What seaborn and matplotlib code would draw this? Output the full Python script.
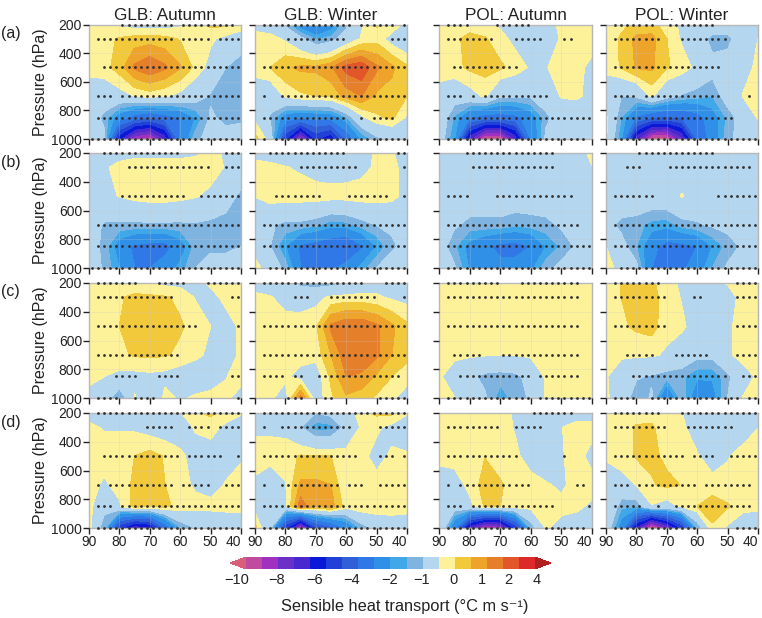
import numpy as np
import pandas as pd
import seaborn as sns
import matplotlib.pyplot as plt

lats = [90, 85, 80, 75, 70, 65, 60, 55, 50, 45, 40]
pressures = [200, 300, 500, 700, 850, 1000]
levels = [-11, -10, -9, -8, -7, -6, -5, -4, -3, -2, -1.5, -1, 0, 0.5, 1, 1.5, 2, 3, 4]
colors = ["#d8607a", "#c04aa0", "#a030c0", "#6a30c8", "#4a28d0", "#0a18d8", "#2040d8",
          "#3060d8", "#3078e8", "#3090e8", "#40a8e8", "#80b4e0", "#b4d6ee", "#fdf199",
          "#f3c93c", "#eea32a", "#e57f2a", "#e2562a", "#dc2a2a", "#b02020"]

# rows = pressure, cols = lat
a_glb_aut = [[0.2, 0.2, -0.1, -0.3, -0.3, -0.3, -0.1, 0.3, 0.6, 0.6, 0.3],
             [0.3, 0.35, 0.55, 0.7, 0.75, 0.65, 0.45, 0.3, 0.1, -0.2, -0.4],
             [0.2, 0.3, 0.75, 1.6, 1.95, 1.6, 1.05, 0.35, -0.25, -1.0, -1.5],
             [-0.4, -0.5, -0.3, 0.02, 0.2, 0.05, -0.2, -0.6, -1.1, -1.3, -1.3],
             [-0.5, -1.2, -2.5, -3.5, -4, -3.5, -3, -2, -0.9, -1.2, -1.15],
             [0.05, -0.8, -7, -10, -10.8, -8, -3, -1.2, -0.7, -0.7, -0.6]]
a_glb_win = [[-0.2, -0.4, -1.2, -2.5, -3.5, -2.5, -1.2, -0.1, 0.55, 0.4, -0.3],
             [0.2, 0.2, -0.1, -0.8, -1.6, -1.3, -0.6, 0.05, 0.3, -0.3, -0.7],
             [0.2, 0.5, 0.9, 1.1, 1.1, 1.4, 2.2, 2.4, 1.6, 1.1, 0.6],
             [-0.4, -0.6, 0.1, 0.4, 0.5, 0.6, 1.2, 1.5, 0.9, 0.8, 0.5],
             [-0.2, -1.1, -2.5, -2.8, -2.7, -2.6, -1.6, -0.2, 0.4, 0.6, -0.1],
             [0.7, -0.3, -6, -10, -6, -7, -4, -2, -1.2, -0.9, -0.7]]
a_pol_aut = [[0.2, 0.2, 0.2, 0.15, -0.1, -0.2, -0.3, -0.2, 0.1, 0.2, 0.2],
             [0.3, 0.35, 0.7, 0.55, 0.2, -0.2, -0.3, -0.3, 0.05, 0.3, 0.3],
             [0.3, 0.35, 0.6, 0.7, 0.6, 0.3, -0.1, -0.03, 0.2, 0.2, -0.2],
             [-0.3, -0.6, -0.3, 0.1, -0.9, -0.9, -0.9, -0.5, 0.05, 0.1, -0.2],
             [-0.3, -1.6, -3, -3.5, -3.5, -3.3, -2.5, -1.2, -0.5, -0.5, -0.4],
             [-0.5, -2, -8, -11.5, -11.5, -8, -3, -0.8, -0.5, -0.4, -0.3]]
a_pol_win = [[0.3, 0.4, 0.6, 0.7, 0.2, -0.1, -0.3, -0.4, -0.4, -0.2, -0.05],
             [0.3, 0.55, 1.15, 1.15, 0.5, -0.1, -0.5, -1.3, -1.3, -0.4, 0.0],
             [0.1, 0.55, 1.05, 1.1, 0.55, 0.3, -0.2, -0.7, -0.5, -0.2, 0.1],
             [-0.3, -1.0, -0.9, 0.1, -0.7, -1.1, -1.3, -1.5, -0.6, 0.02, 0.2],
             [0.1, -1.5, -3.2, -4, -4.2, -4, -3.5, -2.4, -1.4, -0.6, 0.05],
             [0.1, -2, -8, -11.5, -11.5, -8.5, -4, -2.5, -1.2, -0.7, -0.5]]

b_glb_aut = [[-0.4, -0.4, -0.3, -0.2, -0.2, -0.2, -0.2, -0.1, 0.1, -0.05, -0.4],
             [-0.4, -0.1, 0.2, 0.3, 0.3, 0.3, 0.3, 0.3, 0.25, -0.05, -0.4],
             [-0.5, -0.2, 0.03, 0.2, 0.3, 0.3, 0.2, 0.05, -0.15, -0.6, -1.2],
             [-0.6, -1.1, -1.15, -1.15, -1.15, -1.15, -1.15, -1.1, -1.2, -1.3, -1.3],
             [-0.6, -1.2, -2.5, -3.2, -3.4, -3.4, -2.5, -1.3, -1.1, -1.1, -1.0],
             [-0.6, -1.1, -2, -3, -3, -2.5, -1.8, -1, -0.8, -0.8, -0.8]]
b_glb_win = [[-0.2, -0.3, -0.4, -0.4, -0.4, -0.4, -0.4, -0.3, 0.1, 0.05, -0.3],
             [0.2, 0.15, 0.03, -0.1, -0.3, -0.35, -0.3, -0.2, 0.1, 0.2, -0.3],
             [0.02, 0.3, 0.3, 0.3, 0.3, 0.25, 0.25, 0.3, 0.3, 0.2, -0.3],
             [-0.6, -0.9, -1.2, -1.2, -1.4, -1.8, -1.7, -1.3, -1, -0.9, -0.8],
             [-0.4, -1.0, -2, -3.2, -3.5, -3.8, -4.2, -3.2, -2, -1.1, -0.8],
             [0.3, -0.5, -1.2, -3, -3.2, -3.2, -2.6, -1.8, -1, -0.7, -0.7]]
b_pol_aut = [[-0.5, -0.5, -0.5, -0.5, -0.5, -0.5, -0.5, -0.5, -0.5, -0.3, 0.15],
             [-0.4, -0.4, -0.4, -0.4, -0.4, -0.4, -0.4, -0.4, -0.4, -0.4, -0.02],
             [-0.5, -0.5, -0.5, -0.5, -0.5, -0.5, -0.5, -0.5, -0.5, -0.5, -0.5],
             [-0.6, -0.9, -1.2, -1.2, -1.2, -1.4, -1.3, -1.2, -0.9, -0.7, -0.5],
             [-0.6, -1.4, -2.3, -2.8, -3.3, -3.4, -3, -2, -1.4, -0.9, -0.6],
             [-0.6, -0.9, -2.1, -2.5, -2.7, -2.6, -2.2, -1.2, -0.8, -0.7, -0.6]]
b_pol_win = [[-0.4, -0.4, -0.4, -0.4, -0.4, -0.4, -0.4, -0.4, -0.4, -0.4, -0.4],
             [-0.4, -0.4, -0.4, -0.4, -0.4, -0.4, -0.4, -0.4, -0.4, -0.4, -0.4],
             [-0.4, -0.4, -0.4, -0.4, -0.3, 0.04, -0.3, -0.4, -0.4, -0.4, -0.4],
             [-0.7, -1.2, -1.3, -1.7, -1.8, -1.3, -1.1, -0.9, -0.8, -0.7, -0.5],
             [0, -0.7, -1.5, -2.7, -3.4, -3.3, -3, -2, -1.3, -0.9, -0.6],
             [0.2, -0.2, -0.8, -3, -3.4, -3.2, -2.5, -1.5, -0.9, -0.7, -0.6]]

c_glb_aut = [[0.25, 0.25, 0.25, 0.2, 0.0, -0.15, -0.2, -0.2, 0.1, 0.2, 0.25],
             [0.3, 0.35, 0.45, 0.6, 0.6, 0.55, 0.4, -0.05, -0.2, 0.15, 0.25],
             [0.2, 0.3, 0.5, 0.7, 0.7, 0.7, 0.55, 0.35, 0.0, -0.25, 0.1],
             [0.2, 0.3, 0.4, 0.55, 0.6, 0.55, 0.4, 0.15, -0.15, -0.3, 0.1],
             [0.15, 0.0, -0.18, -0.2, -0.15, -0.2, -0.4, -0.5, -0.4, -0.02, 0.15],
             [-0.2, -0.5, -1.7, 0.05, -1.1, 0.2, -0.1, 0.1, 0.2, 0.1, -0.2]]
c_glb_win = [[-0.4, -0.5, -0.7, -1.2, -1.4, -1.3, -1, -0.6, -0.3, -0.2, -0.2],
             [0.2, 0.05, -0.3, -0.4, -0.2, 0.1, 0.2, 0.2, 0.1, -0.1, -0.2],
             [0.3, 0.3, 0.3, 0.35, 0.4, 1.6, 1.9, 1.9, 1.6, 1.1, 0.6],
             [0.3, 0.3, 0.3, 0.3, 0.2, 1.0, 1.8, 1.9, 1.6, 1, 0.6],
             [0.2, 0.2, 0.1, -0.3, -0.4, 0.6, 1.5, 1.4, 0.9, 0.5, 0.3],
             [0.1, 0.1, -0.3, 1.7, -0.4, 0.4, 0.9, 0.7, 0.4, 0.1, -0.4]]
c_pol_aut = [[0.2, 0.2, 0.2, 0.2, 0.2, 0.2, 0.2, 0.2, 0.2, 0.2, 0.2],
             [0.2, 0.2, 0.2, 0.2, 0.2, 0.2, 0.2, 0.2, 0.2, 0.2, 0.2],
             [0.2, 0.2, 0.2, 0.2, 0.2, 0.2, 0.2, 0.2, 0.2, 0.2, 0.2],
             [0.2, 0.15, 0.1, 0.05, 0.03, 0.03, 0.1, 0.2, 0.2, 0.2, 0.2],
             [0.1, -0.4, -0.8, -1.2, -1.3, -1.2, -0.7, 0.1, 0.2, 0.2, 0.2],
             [0.2, 0.02, -0.9, -0.9, -1.8, -1.3, -0.9, 0.1, 0.2, 0.2, 0.2]]
c_pol_win = [[0.2, 0.5, 0.6, 0.55, 0.35, -0.2, -0.3, -0.2, 0.05, 0.2, 0.2],
             [0.2, 0.5, 0.65, 0.65, 0.3, -0.05, -0.4, -0.4, -0.3, 0.2, 0.3],
             [0.2, 0.4, 0.6, 0.7, 0.2, 0.1, -0.3, -0.3, -0.1, 0.2, 0.3],
             [0.2, 0.1, 0.1, 0.1, -0.1, -0.4, -0.8, -0.8, -0.1, 0.2, 0.2],
             [0.05, -0.4, -0.9, -1.1, -1.3, -1.4, -1.9, -1.9, -1.2, -0.3, 0.1],
             [0.1, -0.4, -1.5, -0.9, -3.2, -1.2, -2.7, -2.4, -1, 0.02, 0.1]]

d_glb_aut = [[-0.2, -0.3, -0.4, -0.4, -0.4, -0.4, -0.05, 0.4, 0.6, 0.3, 0.05],
             [0.1, -0.05, -0.05, -0.1, -0.3, -0.4, -0.3, 0.05, 0.2, -0.15, -0.3],
             [0.2, 0.25, 0.3, 0.5, 0.7, 0.45, 0.1, -0.2, -0.3, -0.3, -0.1],
             [0.2, -0.1, 0.2, 0.6, 0.6, 0.5, 0.2, -0.1, -0.3, 0.05, 0.3],
             [0.2, -0.7, -0.1, 0.7, 0.5, 0.6, 0.35, 0.2, 0.2, 0.2, 0.2],
             [0.2, -1.5, -6, -8, -7.5, -4, -1.6, -1, -0.8, -0.6, -0.5]]
d_glb_win = [[-0.2, -0.3, -0.5, -0.9, -1, -0.8, -0.4, 0.3, 0.6, 0.6, 0.15],
             [-0.1, -0.1, -0.2, -1, -1.8, -1.7, -0.8, 0.1, 0.1, -0.2, -1.1],
             [0.2, 0.2, 0.3, 0.55, 0.55, 0.5, 0.3, 0.15, -0.2, 0.1, 0.2],
             [-0.1, -0.4, -0.05, 1.1, 1.1, 1.0, -0.05, 0.3, 0.2, 0.2, 0.2],
             [-0.3, -0.8, -0.2, 1.8, 1.0, 1.2, 0.25, 0.45, 0.45, 0.4, 0.2],
             [0.7, -1, -6, -10.5, -5.5, -4.5, -3, -1.4, -0.8, -0.6, -0.4]]
d_pol_aut = [[0.2, 0.2, 0.2, 0.2, 0.25, -0.1, -0.3, -0.4, -0.4, -0.3, -0.3],
             [0.2, 0.2, 0.2, 0.2, 0.2, -0.05, -0.3, -0.4, -0.02, 0.2, 0.2],
             [0.25, 0.3, 0.3, 0.48, 0.3, 0.1, -0.25, -0.4, -0.05, 0.2, -0.2],
             [-0.5, -0.4, 0.2, 0.7, 0.55, 0.3, 0.2, 0.05, -0.1, 0.2, 0.2],
             [-0.3, -0.5, -0.2, 0.55, 0.5, 0.3, 0.2, 0.15, 0.15, 0.1, -0.1],
             [0.1, -3, -8, -10.5, -10, -6, -1.5, 0.05, -0.2, -0.3, -0.3]]
d_pol_win = [[0.3, 0.3, 0.3, 0.35, 0.3, 0.0, -0.3, -0.3, -0.3, -0.3, -0.3],
             [0.2, 0.3, 0.55, 0.55, 0.3, 0.1, -0.3, -0.4, -0.4, -0.3, -0.02],
             [0.1, 0.3, 0.55, 0.6, 0.4, 0.25, 0.05, -0.3, -0.05, 0.2, 0.3],
             [-0.5, -0.3, 0.02, 0.45, 0.6, 0.48, 0.2, 0.2, 0.2, 0.2, 0.2],
             [0.05, -1.4, -1.5, -0.05, -0.3, 0.1, 0.5, 0.8, 0.55, 0.2, 0.1],
             [-0.4, -2.5, -7.5, -12, -9, -6, -1.6, 0.4, -0.1, -0.5, -0.4]]

# stippling, runs of significant lats (2 deg spacing) for each pressure
a_glb_aut_sig = [[(79, 63), (59, 43)], [(87, 63), (59, 51), (47, 41)], [(85, 41)],
                 [(87, 83), (79, 67), (65, 41)], [(87, 41)], [(89, 41)]]
a_glb_win_sig = [[(87, 59), (55, 45), (41, 41)], [(79, 61), (45, 41)], [(87, 41)],
                 [(87, 87), (81, 41)], [(87, 61), (55, 55), (51, 45)], [(87, 87), (83, 41)]]
a_pol_aut_sig = [[(87, 81), (71, 61)], [(87, 73), (65, 57), (49, 47)], [(85, 65)],
                 [(87, 83), (79, 79), (75, 55)], [(87, 41)], [(87, 43)]]
a_pol_win_sig = [[(87, 75), (69, 55)], [(87, 73), (65, 51)], [(87, 65), (63, 53)],
                 [(87, 81), (77, 53), (43, 43)], [(87, 49)], [(87, 41)]]
b_glb_aut_sig = [[(85, 61), (45, 41)], [(77, 51), (45, 41)], [(79, 59), (53, 41)],
                 [(87, 41)], [(87, 41)], [(89, 41)]]
b_glb_win_sig = [[(85, 61), (43, 41)], [(75, 57), (41, 41)], [(83, 69), (59, 47), (41, 41)],
                 [(87, 41)], [(87, 41)], [(85, 41)]]
b_pol_aut_sig = [[(81, 53)], [(79, 53)], [(87, 81), (71, 47)], [(87, 45)], [(87, 41)], [(87, 41)]]
b_pol_win_sig = [[(79, 55)], [(83, 79), (69, 43)], [(87, 75), (53, 41)], [(87, 41)], [(87, 41)], [(85, 41)]]
c_glb_aut_sig = [[(87, 75), (67, 59), (51, 41)], [(87, 63), (43, 41)], [(87, 55), (41, 41)],
                 [(87, 61)], [(81, 75), (67, 61), (43, 41)], [(87, 81), (75, 71), (69, 69), (41, 41)]]
c_glb_win_sig = [[(87, 55), (47, 41)], [(77, 73), (65, 51), (41, 41)], [(87, 41)], [(87, 41)],
                 [(87, 81), (77, 75), (69, 43)], [(79, 75), (67, 65), (49, 41)]]
c_pol_aut_sig = [[(87, 71), (63, 45)], [(87, 45)], [(87, 45)], [(85, 77), (69, 45)],
                 [(83, 61), (57, 45)], [(87, 81), (79, 61), (57, 41)]]
c_pol_win_sig = [[(87, 73), (47, 41)], [(87, 71), (61, 59), (47, 41)], [(87, 71), (47, 41)],
                 [(83, 75), (67, 57), (47, 41)], [(81, 51), (45, 41)], [(87, 81), (75, 47), (43, 41)]]
d_glb_aut_sig = [[(87, 41)], [(71, 63), (57, 51), (47, 41)], [(85, 61), (57, 47), (41, 41)],
                 [(87, 87), (83, 63), (59, 51), (45, 41)], [(87, 83), (79, 41)], [(87, 41)]]
d_glb_win_sig = [[(87, 41)], [(87, 87), (81, 59), (49, 41)], [(87, 57), (49, 45), (41, 41)],
                 [(87, 87), (81, 63), (59, 55), (49, 41)], [(87, 41)], [(87, 87), (85, 41)]]
d_pol_aut_sig = [[(59, 47)], [(87, 71), (65, 57)], [(87, 65), (49, 49)],
                 [(87, 87), (83, 61), (45, 43)], [(87, 83), (79, 53), (41, 41)], [(87, 61), (55, 43)]]
d_pol_win_sig = [[(87, 73), (65, 41)], [(87, 71), (63, 49)], [(87, 65), (61, 55), (49, 41)],
                 [(87, 83), (79, 61), (57, 43)], [(87, 79), (73, 73), (67, 43)], [(87, 61), (47, 41)]]

row_data = [[a_glb_aut, a_glb_win, a_pol_aut, a_pol_win],
            [b_glb_aut, b_glb_win, b_pol_aut, b_pol_win],
            [c_glb_aut, c_glb_win, c_pol_aut, c_pol_win],
            [d_glb_aut, d_glb_win, d_pol_aut, d_pol_win]]
row_sig = [[a_glb_aut_sig, a_glb_win_sig, a_pol_aut_sig, a_pol_win_sig],
           [b_glb_aut_sig, b_glb_win_sig, b_pol_aut_sig, b_pol_win_sig],
           [c_glb_aut_sig, c_glb_win_sig, c_pol_aut_sig, c_pol_win_sig],
           [d_glb_aut_sig, d_glb_win_sig, d_pol_aut_sig, d_pol_win_sig]]
col_titles = ["GLB: Autumn", "GLB: Winter", "POL: Autumn", "POL: Winter"]
row_labels = ["(a)", "(b)", "(c)", "(d)"]
cbar_labels = ["\u221210", "\u22128", "\u22126", "\u22124", "\u22122", "\u22121", "0", "1", "2", "4"]

W, H = 762, 618
sns.set_theme(style="ticks")
plt.rcParams["font.family"] = ["Liberation Sans", "DejaVu Sans"]
plt.rcParams["text.color"] = "#222222"
fig = plt.figure(figsize=(W / 100, H / 100), dpi=100)


def px_axes(x0, y0, x1, y1):
    return fig.add_axes([x0 / W, 1 - y1 / H, (x1 - x0) / W, (y1 - y0) / H])


col_x = [(89, 241), (255, 407), (439, 592), (606, 758)]
row_y = [(24.5, 139), (153, 268), (283, 398), (413, 528)]
last_cf = None

for r in range(4):
    for c in range(4):
        ax = px_axes(col_x[c][0], row_y[r][0], col_x[c][1], row_y[r][1])
        last_cf = ax.contourf(lats, pressures, np.array(row_data[r][c]), levels=levels,
                              colors=colors, extend="both")
        last_cf.set_edgecolor("face")
        last_cf.set_linewidth(0.3)
        # stipple
        rows = []
        for p, runs in zip(pressures, row_sig[r][c]):
            for start, end in runs:
                for lat in np.arange(start, end - 1, -2):
                    rows.append({"lat": lat, "p": p})
        sns.scatterplot(data=pd.DataFrame(rows), x="lat", y="p", ax=ax, color="#303030",
                        s=4, linewidth=0, legend=False, clip_on=False, zorder=4)
        ax.set_xlim(90, 40)
        ax.set_ylim(1000, 200)
        ax.set_xticks([90, 80, 70, 60, 50, 40])
        ax.set_yticks([200, 400, 600, 800, 1000])
        ax.grid(True, color="#c8c8c8", alpha=0.25, linewidth=0.7)
        ax.set_axisbelow(False)
        for s in ax.spines.values():
            s.set_color("#b5b5b5")
            s.set_linewidth(1)
        ax.tick_params(length=4, width=1, color="#222222", labelsize=10, pad=1,
                       labelcolor="#222222", labelleft=c == 0, labelbottom=r == 3)
        if r == 3:
            ax.get_xticklabels()[-1].set_ha("right")
        ax.set_xlabel("")
        ax.set_ylabel("Pressure (hPa)" if c == 0 else "", fontsize=11.5, labelpad=2, color="#222222")
        if r == 0:
            ax.set_title(col_titles[c], fontsize=12.3, pad=3, color="#222222")
    fig.text(1 / W, 1 - (row_y[r][0] + 9) / H, row_labels[r], fontsize=11.5, va="center", ha="left")

# colour bar
cax = px_axes(230, 557, 551, 569)
cb = fig.colorbar(last_cf, cax=cax, orientation="horizontal", spacing="uniform",
                  extend="both", extendfrac=0.056)
cb.set_ticks([])
cb.outline.set_visible(False)
cb.dividers.set_visible(False)
label_px = [237, 277, 315, 352, 390, 422, 454, 482, 508, 537]
for txt, px in zip(cbar_labels, label_px):
    fig.text(px / W, 1 - 580 / H, txt, fontsize=10.5, ha="center", va="center")
fig.text(405 / W, 1 - 607 / H, "Sensible heat transport (\u00b0C m s\u207b\u00b9)",
         fontsize=11.8, ha="center", va="center")

fig.savefig("out.png", dpi=100)
